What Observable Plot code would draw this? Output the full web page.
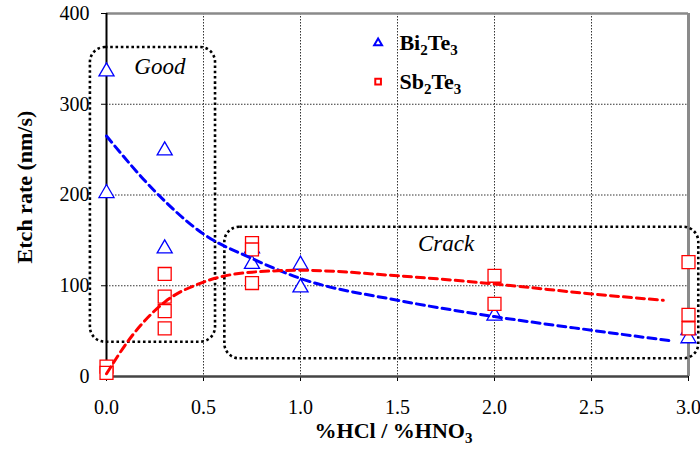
<!DOCTYPE html>
<html><head><meta charset="utf-8">
<script src="https://cdn.jsdelivr.net/npm/d3@7"></script>
<script src="https://cdn.jsdelivr.net/npm/@observablehq/plot@0.6"></script>
<style>body{margin:0;background:#fff}#chart{width:700px;height:450px}</style>
</head><body><div id="chart"></div>
<script>
// ---- data ----
const xTicks = [0, 0.5, 1, 1.5, 2, 2.5, 3];
const yTicks = [0, 100, 200, 300, 400];
const xGrid = [0.5, 1, 1.5, 2, 2.5];
const yGrid = [100, 200, 300];

const seriesNames = ["Bi2Te3", "Sb2Te3"];

// Bi2Te3 measured etch rates (triangles)
const biX = [0, 0, 0.3, 0.3, 0.75, 0.75, 1.0, 1.0, 2.0, 3.0, 3.0];
const biY = [336, 202, 249, 141, 141, 124, 123, 98, 67, 51, 42];

// Sb2Te3 measured etch rates (squares)
const sbX = [0, 0, 0.3, 0.3, 0.3, 0.3, 0.75, 0.75, 0.75, 2.0, 2.0, 3.0, 3.0, 3.0];
const sbY = [11, 4, 113, 88, 72, 53, 147, 140, 103, 111, 80, 126, 68, 53];

// dashed trend lines
const biFitX = [0, 0.25, 0.5, 0.75, 1.0, 1.5, 2.0, 2.5, 2.92];
const biFitY = [265, 204, 157, 130, 108, 84, 66, 51, 39];
const sbFitX = [0, 0.125, 0.3, 0.5, 0.75, 1.0, 1.5, 2.0, 2.5, 2.87];
const sbFitY = [3, 43, 82, 104, 115, 117, 111, 102, 91, 84];

// annotated regions (data coordinates)
const regionLabels = ["Good", "Crack"];
const regionX1 = [-0.083, 0.61];
const regionX2 = [0.562, 3.053];
const regionY1 = [37.8, 19.5];
const regionY2 = [362.5, 164.5];
const regionLabelX = [0.275, 1.75];
const regionLabelY = [342, 146];

// legend anchor (data coordinates)
const legendSymbolX = 1.40;
const legendTextX = 1.51;
const legendY = [367.5, 325];

// ---- tables ----
const bi = biX.map((x, i) => ({x, y: biY[i]}));
const sb = sbX.map((x, i) => ({x, y: sbY[i]}));
const biFit = biFitX.map((x, i) => ({x, y: biFitY[i]}));
const sbFit = sbFitX.map((x, i) => ({x, y: sbFitY[i]}));
const regions = regionLabels.map((label, i) => ({
  label, x1: regionX1[i], x2: regionX2[i], y1: regionY1[i], y2: regionY2[i],
  tx: regionLabelX[i], ty: regionLabelY[i]
}));
const legend = seriesNames.map((name, i) => ({name, y: legendY[i]}));

const BLUE = "#0000ff", RED = "#ff0000";
const SERIF = "'Liberation Serif', 'Times New Roman', Times, serif";

const plot = Plot.plot({
  width: 700, height: 450,
  marginLeft: 106, marginRight: 12, marginTop: 13, marginBottom: 74,
  style: {fontFamily: SERIF, fontSize: "20px", color: "#000", background: "#fff", overflow: "visible"},
  x: {domain: [0, 3], ticks: xTicks, tickFormat: d3.format(".1f"), tickSize: 5, tickPadding: 18, label: null},
  y: {domain: [0, 400], ticks: yTicks, tickSize: 5, tickPadding: 12, label: null},
  marks: [
    Plot.ruleX(xGrid, {stroke: "#333", strokeWidth: 1, strokeDasharray: "1.5,1.5"}),
    Plot.ruleY(yGrid, {stroke: "#333", strokeWidth: 1, strokeDasharray: "1.5,1.5"}),
    Plot.ruleY([400], {stroke: "#8a8a8a", strokeWidth: 2.5}),
    Plot.ruleX([3], {stroke: "#8a8a8a", strokeWidth: 3}),
    Plot.ruleY([0], {stroke: "#444", strokeWidth: 2.5}),
    Plot.ruleX([0], {stroke: "#000", strokeWidth: 2}),
    Plot.rect(regions, {x1: "x1", x2: "x2", y1: "y1", y2: "y2", rx: 15, fill: "none", stroke: "#000", strokeWidth: 2.6, strokeDasharray: "2.6,2.7"}),
    Plot.text(regions, {x: "tx", y: "ty", text: "label", fontStyle: "italic", fontSize: 23, fill: "#000", fontFamily: SERIF}),
    Plot.dot(bi, {x: "x", y: "y", symbol: "triangle", r: 5.6, stroke: BLUE, fill: "#fff", strokeWidth: 1.3}),
    Plot.dot(sb, {x: "x", y: "y", symbol: "square", r: 7.3, stroke: RED, fill: "#fff", strokeWidth: 1.3}),
    Plot.line(biFit, {x: "x", y: "y", stroke: BLUE, strokeWidth: 3, strokeDasharray: "8,5", curve: "monotone-x"}),
    Plot.line(sbFit, {x: "x", y: "y", stroke: RED, strokeWidth: 3, strokeDasharray: "8,5", curve: "monotone-x"}),
    Plot.dot(legend, {x: legendSymbolX, y: "y", symbol: (d, i) => i === 0 ? "triangle" : "square",
      r: (d, i) => i === 0 ? 5.4 : 6.4, stroke: (d, i) => i === 0 ? BLUE : RED, fill: "#fff", strokeWidth: 2}),
    Plot.text(legend, {x: legendTextX, y: "y", text: "name", textAnchor: "start", lineAnchor: "middle", fontWeight: "bold", fontSize: 22, fill: "#000", fontFamily: SERIF}),
    Plot.text(["Etch rate (nm/s)"], {text: d => d, frameAnchor: "left", textAnchor: "middle", lineAnchor: "middle", rotate: -90, dx: -82, dy: -8, fontWeight: "bold", fontSize: 22, fill: "#000", fontFamily: SERIF}),
    Plot.text(["%HCl / %HNO3"], {text: d => d, frameAnchor: "bottom", textAnchor: "middle", lineAnchor: "middle", dx: -4, dy: 54, fontWeight: "bold", fontSize: 22, fill: "#000", fontFamily: SERIF})
  ]
});

// chemical-formula subscripts
const SVGNS = "http://www.w3.org/2000/svg";
const subTexts = new Set(["Bi2Te3", "Sb2Te3", "%HCl / %HNO3"]);
plot.querySelectorAll("text").forEach(t => {
  const s = t.textContent;
  if (!subTexts.has(s) || t.querySelector("tspan")) return;
  t.textContent = "";
  let down = false;
  for (const p of s.split(/(\d+)/)) {
    if (!p) continue;
    const ts = document.createElementNS(SVGNS, "tspan");
    ts.textContent = p;
    const isDigit = /^\d+$/.test(p);
    if (isDigit) { ts.setAttribute("font-size", "15px"); if (!down) { ts.setAttribute("dy", "5"); down = true; } }
    else if (down) { ts.setAttribute("dy", "-5"); down = false; }
    t.appendChild(ts);
  }
});

document.getElementById("chart").appendChild(plot);
</script>
</body></html>
